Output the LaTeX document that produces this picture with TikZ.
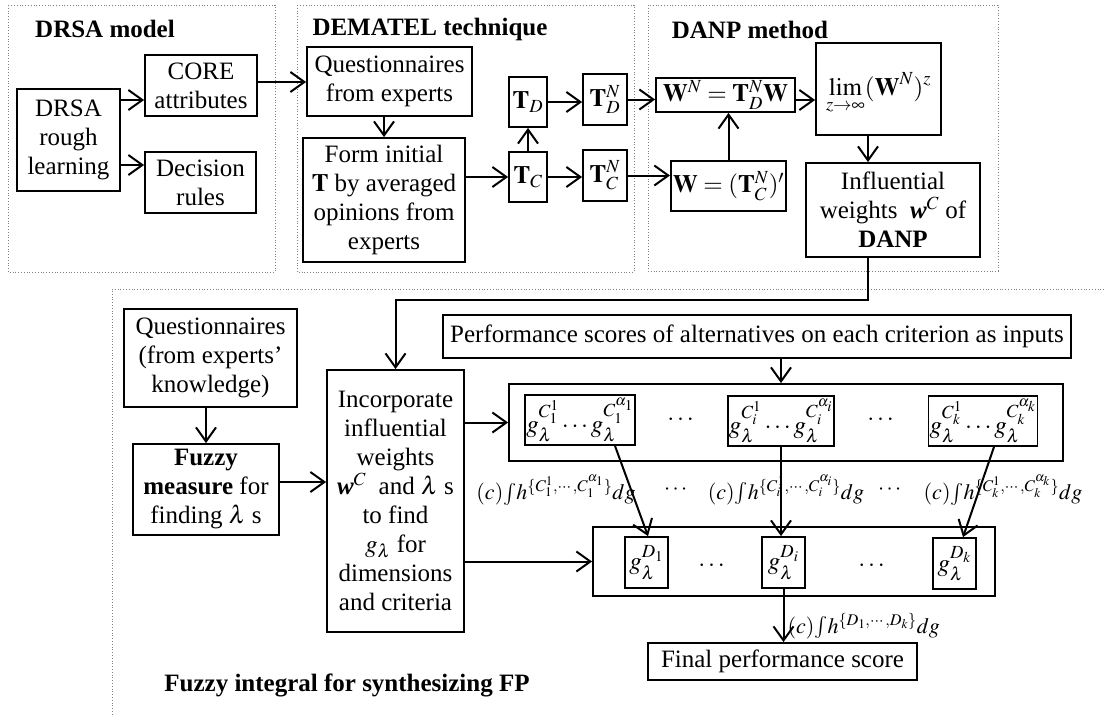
\documentclass[tikz,border=0pt]{standalone}
\usepackage{amsmath}
\usepackage{mathptmx}
\usepackage[no-math]{fontspec}
\setmainfont{Liberation Serif}
\usetikzlibrary{positioning}
\usetikzlibrary{arrows.meta}
\tikzset{>={Straight Barb[length=14pt,width=20pt]}}
\tikzset{blk/.style={draw, line width=1.8pt, align=center, inner sep=2pt}}
\tikzset{grp/.style={draw=gray, dotted, line width=0.8pt}}
\tikzset{ttl/.style={font=\fontsize{25}{29}\selectfont\bfseries}}
\tikzset{lbl/.style={inner sep=1pt, font=\fontsize{22}{26}\selectfont}}

\begin{document}
\begin{tikzpicture}[x=1pt, y=-1pt, font=\fontsize{25}{29}\selectfont, line width=2pt]
        \useasboundingbox (0,0) rectangle (1106,715);

        % dotted frames
        \draw[grp] (8,5) rectangle (275,272);
        \draw[grp] (297,5) rectangle (634,272);
        \draw[grp] (648,5) rectangle (998,271);
        \draw[grp] (1104,289) -- (112,289) -- (112,715);

        % DRSA model
        \node[ttl] (t1) at (105,29) {DRSA model};
        \node[blk, minimum width=103pt, minimum height=102pt] (drsa) at (68.5,140) {DRSA\\rough\\learning};
        \node[blk, minimum width=112pt, minimum height=61pt] (core) at (201,85.5) {CORE\\attributes};
        \node[blk, minimum width=111pt, minimum height=61pt] (rules) at (200.5,182.5) {Decision\\rules};

        % DEMATEL technique
        \node[ttl] (t2) at (430,29) {DEMATEL technique};
        \node[blk, minimum width=165pt, minimum height=69pt] (quest) at (389.5,81.5) {Questionnaires\\from experts};
        \node[blk, minimum width=162pt, minimum height=124pt] (form) at (384,200) {Form initial\\$\mathbf{T}$ by averaged\\opinions from\\experts};
        \node[blk, minimum width=38pt, minimum height=50pt] (tc) at (528,177) {$\mathbf{T}_C$};
        \node[blk, minimum width=38pt, minimum height=50pt] (td) at (528,102) {$\mathbf{T}_D$};
        \node[blk, minimum width=44pt, minimum height=51pt] (tdn) at (605,99.5) {$\mathbf{T}_D^N$};
        \node[blk, minimum width=44pt, minimum height=51pt] (tcn) at (605,175.5) {$\mathbf{T}_C^N$};

        % DANP method
        \node[ttl] (t3) at (750,30) {DANP method};
        \node[blk, minimum width=139pt, minimum height=34pt, inner sep=1pt] (wn) at (725.5,95) {$\mathbf{W}^N=\mathbf{T}_D^N\mathbf{W}$};
        \node[blk, minimum width=125pt, text height=50pt, text depth=38pt] (lim) at (878.5,89) {$\displaystyle\lim_{z\to\infty}(\mathbf{W}^N)^z$};
        \node[blk, minimum width=111pt, minimum height=50pt] (w) at (728.5,186) {$\mathbf{W}=(\mathbf{T}_C^N)'$};
        \node[blk, minimum width=174pt, minimum height=94pt, inner sep=1pt] (infl) at (893,210) {Influential\\weights \ \textbf{\textit{w}}$^C$ of\\\textbf{DANP}};

        % Fuzzy integral
        \node[ttl] (t4) at (347,685) {Fuzzy integral for synthesizing FP};
        \node[blk, minimum width=173pt, minimum height=98pt] (quest2) at (210.5,358) {Questionnaires\\(from experts’\\knowledge)};
        \node[blk, minimum width=146pt, minimum height=91pt] (fuzzy) at (206,489.5) {\textbf{Fuzzy}\\\textbf{measure} for\\finding $\lambda$ s};
        \node[blk, minimum width=137pt, minimum height=262pt, inner sep=1pt] (incorp) at (395.5,501) {Incorporate\\influential\\weights\\\textbf{\textit{w}}$^C$ \ and $\lambda$ s\\to find\\$g_\lambda$ for\\dimensions\\and criteria};
        \node[blk, minimum width=628pt, minimum height=43pt] (perf) at (757,336.5) {Performance scores of alternatives on each criterion as inputs};

        \node[blk, minimum width=554pt, minimum height=77pt] (crit) at (786,422.5) {};
        \node[blk, minimum width=104pt, minimum height=50pt, inner sep=1pt] (c1) at (580,420) {$g_\lambda^{C_1^1}\cdots g_\lambda^{C_1^{\alpha_1}}$};
        \node[blk, minimum width=104pt, minimum height=50pt, inner sep=1pt] (ci) at (781,421) {$g_\lambda^{C_i^1}\cdots g_\lambda^{C_i^{\alpha_i}}$};
        \node[blk, minimum width=108pt, minimum height=50pt, inner sep=1pt] (ck) at (983,421) {$g_\lambda^{C_k^1}\cdots g_\lambda^{C_k^{\alpha_k}}$};
        \node (cd1) at (682,420) {$\cdots$};
        \node (cd2) at (882,420) {$\cdots$};

        \node[blk, minimum width=402pt, minimum height=69pt] (dim) at (794,561.5) {};
        \node[blk, minimum width=43pt, minimum height=51pt, inner sep=1pt] (d1) at (646.5,562.5) {$g_\lambda^{D_1}$};
        \node[blk, minimum width=43pt, minimum height=51pt, inner sep=1pt] (di) at (783.5,562.5) {$g_\lambda^{D_i}$};
        \node[blk, minimum width=43pt, minimum height=51pt, inner sep=1pt] (dk) at (954.5,563.5) {$g_\lambda^{D_k}$};
        \node (dd1) at (713,566) {$\cdots$};
        \node (dd2) at (873,566) {$\cdots$};

        \node[blk, minimum width=269pt, minimum height=37pt] (final) at (782.5,661.5) {Final performance score};

        \node[lbl] (int1) at (556,490) {$(c)\!\int\! h^{\{C_1^1,\cdots,C_1^{\alpha_1}\}}dg$};
        \node[lbl] (id1) at (677,490) {$\cdots$};
        \node[lbl] (inti) at (786,490) {$(c)\!\int\! h^{\{C_i^1,\cdots,C_i^{\alpha_i}\}}dg$};
        \node[lbl] (id2) at (891,490) {$\cdots$};
        \node[lbl] (intk) at (1003,490) {$(c)\!\int\! h^{\{C_k^1,\cdots,C_k^{\alpha_k}\}}dg$};

        % connectors
        \draw[->] (drsa.east |- 0,100) -- (core.west |- 0,100);
        \draw[->] (drsa.east |- 0,165) -- (rules.west |- 0,165);
        \draw[->] (core.east |- 0,82) -- (quest.west |- 0,82);
        \draw[->] (form.north |- quest.south) -- (form.north);
        \draw[->] (form.east |- tc.west) -- (tc.west);
        \draw[->] (tc.north) -- (td.south);
        \draw[->] (td.east) -- (tdn.west |- td.east);
        \draw[->] (tc.east) -- (tcn.west |- tc.east);
        \draw[->] (tdn.east) -- (wn.west |- tdn.east);
        \draw[->] (tcn.east) -- (w.west |- tcn.east);
        \draw[->] (w.north) -- (wn.south -| w.north);
        \draw[->] (wn.east |- 0,100) -- (lim.west |- 0,100);
        \draw[->] (lim.south -| 868,0) -- (infl.north -| 868,0);
        \draw[->] (infl.south -| 868,0) |- (incorp.north |- 0,300) -- (incorp.north);

        \draw[->] (fuzzy.north |- quest2.south) -- (fuzzy.north);
        \draw[->] (fuzzy.east |- 0,482) -- (incorp.west |- 0,482);
        \draw[->] (incorp.east |- crit.west) -- (crit.west);
        \draw[->] (incorp.east |- dim.west) -- (dim.west);
        \draw[->] (perf.south -| ci.north) -- (crit.north -| ci.north);

        \draw[->] ([xshift=35pt]c1.south) -- ([xshift=1.5pt]d1.north);
        \draw[->] (ci.south) -- (ci.south |- di.north);
        \draw[->] ([xshift=11pt]ck.south) -- ([xshift=8.5pt]dk.north);
        \draw[->] (di.south) -- (di.south |- final.north)
         node[pos=0.7, right, lbl, xshift=2pt] {$(c)\!\int\! h^{\{D_1,\cdots,D_k\}}dg$};
    \end{tikzpicture}
\end{document}
